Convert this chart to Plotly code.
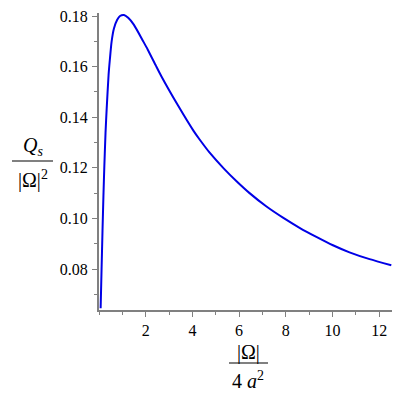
import plotly.graph_objects as go

# values
omega_ratio = [0.07, 0.11, 0.15, 0.19, 0.23, 0.28, 0.33, 0.41, 0.47, 0.54, 0.64, 0.78, 0.90,
               1.07, 1.25, 1.49, 1.90, 2.09, 2.44, 2.67, 3.38, 4.05, 4.31, 4.74, 5.35, 5.88,
               6.45, 7.16, 7.88, 8.59, 9.31, 10.02, 10.73, 11.59, 12.52]
q_ratio = [0.0645, 0.0800, 0.0950, 0.1090, 0.1210, 0.1340, 0.1435, 0.1567, 0.1633, 0.1699, 0.1751,
           0.1785, 0.1800, 0.1804, 0.1793, 0.1766, 0.1699, 0.1667, 0.1603, 0.1562, 0.1447, 0.1346,
           0.1312, 0.1260, 0.1197, 0.1148, 0.1100, 0.1048, 0.1003, 0.0963, 0.0927, 0.0894,
           0.0866, 0.0839, 0.0815]
x_ticks = [2, 4, 6, 8, 10, 12]
y_ticks = [0.08, 0.10, 0.12, 0.14, 0.16, 0.18]
y_ticktext = ["0.08", "0.10", "0.12", "0.14", "0.16", "0.18"]

W, H = 400, 400
L, R, T, B = 99, 8, 13, 90
PW, PH = W - L - R, H - T - B


def px_x(px):
    return (px - L) / PW


def px_y(py):
    return (H - B - py) / PH


axis_col = "#808080"
serif = "Liberation Serif, Times New Roman, serif"

fig = go.Figure()
fig.add_trace(go.Scatter(x=omega_ratio, y=q_ratio, mode="lines",
                         line=dict(color="#0000e6", width=2, shape="spline", smoothing=0.6),
                         showlegend=False, hoverinfo="skip"))

fig.update_layout(
    width=W, height=H, margin=dict(l=L, r=R, t=T, b=B),
    plot_bgcolor="white", paper_bgcolor="white",
    font=dict(family=serif, size=16, color="black"),
    xaxis=dict(range=[0, 12.55], tickvals=x_ticks, showgrid=False, zeroline=False,
               automargin=False, tickfont=dict(family=serif, size=16),
               showline=True, linecolor=axis_col, linewidth=2,
               ticks="outside", ticklen=5, tickwidth=1, tickcolor=axis_col,
               ticklabelstandoff=0,
               minor=dict(dtick=1, tick0=0, ticks="outside", ticklen=3, tickcolor=axis_col)),
    yaxis=dict(range=[0.0638, 0.1812], tickvals=y_ticks, ticktext=y_ticktext,
               showgrid=False, zeroline=False,
               automargin=False, tickfont=dict(family=serif, size=16),
               showline=True, linecolor=axis_col, linewidth=2,
               ticks="outside", ticklen=5, tickwidth=1, tickcolor=axis_col,
               ticklabelstandoff=1,
               minor=dict(dtick=0.01, tick0=0, ticks="outside", ticklen=3, tickcolor=axis_col)),
)

# fraction-style axis titles, like the Maple output
labels = [
    ("<i>Q</i><sub><i>s</i></sub>", 33, 146),
    ("|Ω|<sup>2</sup>", 33, 179),
    ("|Ω|", 248, 352),
    ("4 <i>a</i><sup>2</sup>", 248, 380),
]
for txt, x, y in labels:
    fig.add_annotation(text=txt, x=px_x(x), y=px_y(y), xref="paper", yref="paper",
                       showarrow=False, font=dict(family=serif, size=20, color="black"),
                       xanchor="center", yanchor="middle", borderpad=0)

for x0, x1, y in [(12, 53, 161), (229, 268, 363)]:
    fig.add_shape(type="line", xref="paper", yref="paper",
                  x0=px_x(x0), x1=px_x(x1), y0=px_y(y), y1=px_y(y),
                  line=dict(color=axis_col, width=2))

# the page body has a default 8px margin; drop it so the figure sits at (0, 0)
fig.write_html("out.html", config={"displayModeBar": False},
               post_script="document.body.style.margin='0';")
